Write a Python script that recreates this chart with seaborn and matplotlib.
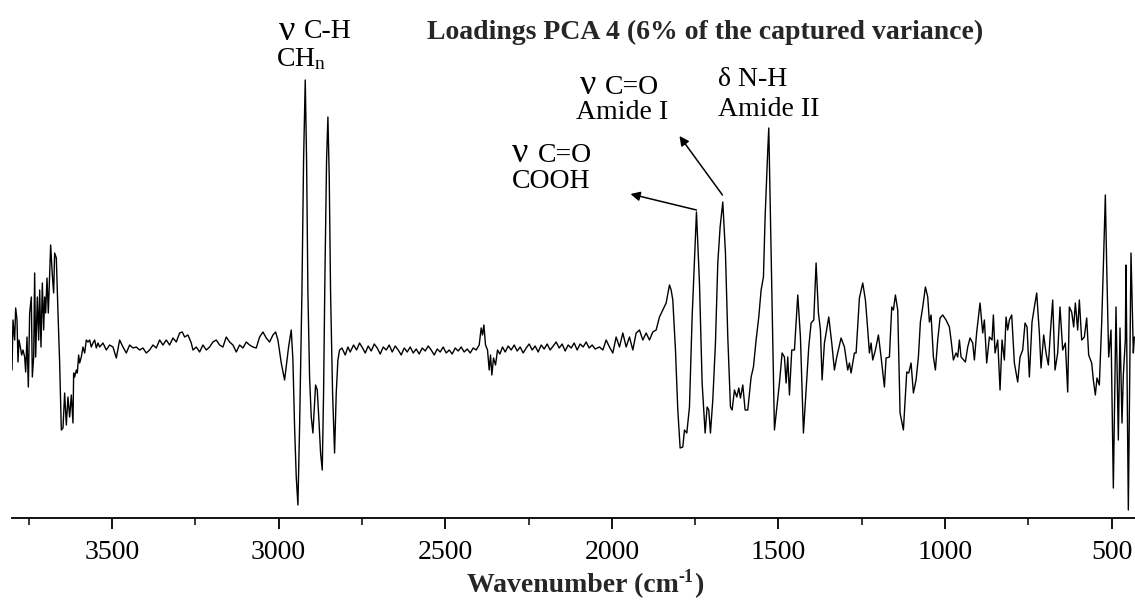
import numpy as np
import pandas as pd
import seaborn as sns
import matplotlib.pyplot as plt
from matplotlib.ticker import MultipleLocator

# PCA loading 4 of the FTIR spectra (loading values in units of 1e-3)
wn_oh = [3800, 3797, 3792, 3789, 3785, 3782, 3779, 3775, 3771, 3767, 3762, 3759, 3755, 3751, 3747,
         3742, 3739, 3735, 3732, 3729, 3724, 3720, 3717, 3713, 3709, 3705, 3702, 3699, 3695, 3691,
         3687, 3684, 3679, 3675, 3672, 3667, 3662, 3657, 3652, 3647, 3642, 3637, 3632, 3627, 3622,
         3617, 3615, 3612, 3607, 3604, 3600, 3597, 3592, 3587, 3582, 3577, 3572, 3567, 3562, 3557,
         3552, 3547, 3542, 3537, 3527, 3517, 3507, 3497, 3487, 3477, 3467, 3457, 3447, 3437, 3427,
         3417, 3407, 3397, 3387, 3377, 3367, 3357, 3347, 3337, 3327, 3317, 3307, 3297, 3289, 3282,
         3272, 3262, 3257, 3247, 3237, 3227, 3217, 3207, 3197, 3187, 3177, 3167, 3157, 3147, 3137,
         3127, 3117, 3107, 3097, 3087, 3077, 3067, 3057, 3047, 3037, 3027, 3017, 3009, 3002]
ld_oh = [-20, 30, 10, 42, 30, -12, 10, 3, -5, 0, -7, -22, 13, -37, 37,
         53, -27, -7, 77, -7, 53, 10, 60, 3, 67, 20, 53, 37, 72, 37,
         77, 105, 75, 57, 97, 92, 37, -13, -80, -78, -43, -75, -47, -67, -45,
         -73, -23, -27, -20, -23, -5, -13, -7, 3, -3, 10, 8, 10, 3, 7,
         10, 2, 7, 3, 7, 0, 5, 3, -8, 10, 3, -3, 5, 2, 3,
         0, 2, -3, 0, 5, 2, 10, 5, 10, 5, 12, 8, 17, 18, 13,
         15, 7, 0, 3, -2, 5, 0, 3, 8, 10, 5, 3, 13, 8, 5,
         -2, 5, 2, 8, 5, 3, 2, 13, 18, 12, 8, 15, 18, 10]

wn_ch = [2992, 2982, 2970, 2962, 2957, 2952, 2947, 2942, 2937, 2930, 2925, 2920, 2916, 2912, 2907,
         2902, 2897, 2892, 2889, 2884, 2879, 2874, 2869, 2865, 2861, 2856, 2852, 2848, 2844, 2838,
         2832, 2827, 2822, 2817]
ld_ch = [-13, -30, 3, 20, -10, -77, -127, -155, -77, 57, 190, 270, 190, 57, -27,
         -67, -83, -53, -35, -40, -70, -103, -120, -43, 73, 190, 233, 173, 57, -43,
         -103, -43, -10, 0]

wn_mid = [2810, 2800, 2792, 2785, 2775, 2766, 2757, 2748, 2740, 2731, 2722, 2713, 2704, 2695, 2686,
          2677, 2668, 2659, 2650, 2641, 2632, 2623, 2614, 2605, 2596, 2587, 2578, 2569, 2560, 2551,
          2542, 2533, 2524, 2515, 2506, 2497, 2488, 2479, 2470, 2461, 2452, 2443, 2434, 2425, 2416,
          2407, 2398, 2392, 2388, 2384, 2379, 2373, 2368, 2364, 2360, 2355, 2349, 2343, 2336, 2328,
          2320, 2311, 2302, 2293, 2284, 2275, 2266, 2257, 2248, 2239, 2230, 2221, 2212, 2203, 2194,
          2185, 2176, 2167, 2158, 2149, 2140, 2131, 2122, 2113, 2104, 2095, 2086, 2077, 2068, 2059,
          2050]
ld_mid = [2, -5, 3, -2, 5, 0, 7, 2, -3, 4, -1, 6, 2, -4, 3,
          0, 5, -2, 4, 0, -5, 2, -2, 3, -3, 1, -4, 2, -1, 4,
          0, -5, 1, -2, 3, -3, 0, -4, 2, -1, 3, -2, 1, -3, 2,
          0, 5, 22, 15, 25, 5, 0, -20, -5, -25, -8, -15, 0, -4, 3,
          -2, 4, 0, 5, -1, 3, -3, 2, 6, 0, 4, -2, 5, 1, 6,
          0, 4, 8, 2, 6, -1, 5, 2, 7, 0, 6, 3, 8, 2, 5,
          1]

wn_co = [2037, 2027, 2017, 2007, 1997, 1987, 1977, 1967, 1957, 1947, 1937, 1927, 1917, 1907, 1897,
         1887, 1877, 1867, 1857, 1847, 1837, 1827, 1822, 1817, 1809, 1802, 1795, 1787, 1782, 1775,
         1767, 1759, 1746, 1737, 1729, 1720, 1714, 1709, 1704, 1697, 1689, 1682, 1675, 1667, 1659,
         1652, 1644, 1639, 1632, 1625, 1619, 1614, 1607, 1600, 1592, 1582, 1575, 1567, 1559, 1552,
         1545, 1540, 1532, 1529, 1520, 1512, 1497, 1489, 1482, 1477, 1472, 1467, 1460, 1452, 1442,
         1434, 1425, 1417, 1409, 1402, 1394, 1387, 1380, 1374, 1369, 1362, 1349, 1340, 1332, 1325,
         1312, 1302, 1292]
ld_co = [3, 0, 10, 3, -3, 13, 3, 17, 3, 13, 0, 17, 20, 10, 17,
         10, 18, 20, 33, 40, 47, 65, 60, 50, 0, -60, -98, -97, -80, -83,
         -57, 33, 138, 67, -33, -83, -57, -60, -83, -50, 7, 87, 123, 148, 97,
         13, -57, -60, -40, -47, -38, -48, -35, -60, -60, -27, -17, 10, 33, 60,
         73, 133, 200, 222, 60, -80, -33, -3, -7, -33, -7, -45, 0, 0, 55,
         13, -83, -40, 3, 27, 30, 87, 37, 20, -30, 7, 33, 7, -20, -7,
         12, 3, -20]

wn_fp = [1287, 1282, 1272, 1267, 1257, 1247, 1239, 1232, 1227, 1222, 1217, 1209, 1200, 1192, 1182,
         1177, 1167, 1160, 1155, 1149, 1142, 1135, 1125, 1115, 1109, 1102, 1095, 1087, 1080, 1074,
         1067, 1059, 1052, 1047, 1042, 1035, 1029, 1022, 1015, 1007, 997, 987, 982, 975, 967,
         962, 957, 952, 939, 932, 925, 917, 912, 905, 895, 887, 882, 875, 867, 859,
         855, 850, 842, 835, 829, 822, 817, 812, 807, 800, 792, 782, 775, 767, 760,
         754, 747, 739, 732, 725, 717, 712, 704, 697, 690, 684, 677, 670, 662, 655,
         647, 639, 632, 627, 620, 614, 609, 602, 597, 590, 582, 575, 569, 560, 555,
         549, 544, 537, 530, 525, 519, 515, 509, 502, 495, 487, 480, 475, 469, 465,
         459, 457, 450, 442, 435, 432]
ld_fp = [-13, -23, -3, -3, 52, 67, 50, 20, -3, 7, -10, 0, 15, -7, -37,
         -8, -7, 43, 40, 55, 40, -63, -80, -22, -23, -13, -43, -30, -7, 28,
         43, 63, 53, 28, 35, -7, -20, 10, 32, 35, 30, 23, 10, -10, -3,
         -7, 10, -7, -12, 3, 12, 7, -10, 18, 47, 17, 30, -13, 13, 10,
         35, -3, 10, -40, 10, -10, 33, 20, 30, 35, -13, -32, -7, 0, 27,
         23, -27, 28, 43, 57, 17, -18, 15, -3, -15, 17, 50, -20, -3, 43,
         0, 7, -42, 43, 38, 23, 47, 20, 50, 10, 13, 32, -5, -13, -30,
         -45, -28, -35, 27, 83, 155, 85, -7, 20, -138, 43, -90, 22, -73, -25,
         10, 85, -160, 97, -3, 13]

wavenumber = wn_oh + wn_ch + wn_mid + wn_co + wn_fp
loading = ld_oh + ld_ch + ld_mid + ld_co + ld_fp
spec = pd.DataFrame({"wavenumber": wavenumber, "loading": loading})

sns.set_theme(style="ticks")
plt.rcParams['font.family'] = ['Liberation Serif', 'DejaVu Serif']
plt.rcParams['mathtext.fontset'] = 'custom'
plt.rcParams['mathtext.rm'] = 'Liberation Serif'
plt.rcParams['mathtext.it'] = 'Liberation Serif:italic'
plt.rcParams['mathtext.bf'] = 'Liberation Serif:bold'

W, H = 1135, 601
fig = plt.figure(figsize=(W / 100, H / 100), dpi=100)
spine_y = 517.7
ax = fig.add_axes([12 / W, (H - spine_y) / H, 1 - 12 / W, spine_y / H])

sns.lineplot(data=spec, x="wavenumber", y="loading", sort=False, estimator=None,
             color="black", linewidth=1.0, ax=ax)

ax.set_xlim(3800, 430)
ax.set_ylim(350 - spine_y, 350)
ax.xaxis.set_major_locator(MultipleLocator(500))
ax.xaxis.set_minor_locator(MultipleLocator(250))
ax.tick_params(axis="x", which="major", direction="out", length=8, width=1.3,
               labelsize=20, pad=8, colors="black")
ax.tick_params(axis="x", which="minor", direction="out", length=5, width=1.3)
ax.set_yticks([])
ax.set_ylabel("")
ax.set_xlabel("")
for side in ("left", "right", "top"):
    ax.spines[side].set_visible(False)
ax.spines["bottom"].set_linewidth(1.3)
ax.spines["bottom"].set_color("black")
ax.patch.set_alpha(0)


def fx(px):
    return px / W


def fy(py):
    return 1 - py / H


def label(px, py, s, size=20, ha="left", weight="normal"):
    return fig.text(fx(px), fy(py), s, fontsize=size, ha=ha, va="center",
                    weight=weight, color="black")


renderer = fig.canvas.get_renderer()

# axis title built from pieces so the exponent keeps a plain hyphen
parts = [("Wavenumber (cm", 20, 0), ("-1", 13, -9), (")", 20, 0)]
widths = []
for s, size, _ in parts:
    t = fig.text(0, 0, s, fontsize=size, weight="bold")
    widths.append(t.get_window_extent(renderer).width)
    t.remove()
x0 = 585 - sum(widths) / 2
for (s, size, dy), w in zip(parts, widths):
    fig.text(fx(x0), fy(586 + dy), s, fontsize=size, weight="bold",
             ha="left", va="center")
    x0 += w

fig.text(fx(427), fy(32), "Loadings PCA 4 (6% of the captured variance)",
         fontsize=20, weight="bold", ha="left", va="center")

# band assignments
label(279, 32, "ν", size=26)
label(304, 32, "C-H", size=20)
label(276, 59, r"CH$_{\mathregular{n}}$", size=20)

label(580, 85, "ν", size=26)
label(605, 87, "C=O", size=20)
label(622, 112, "Amide I", size=20, ha="center")

label(718, 80, "δ N-H", size=20)
label(718, 109, "Amide II", size=20)

label(512, 153, "ν", size=26)
label(538, 155, "C=O", size=20)
label(512, 182, "COOH", size=20)


def px_to_data(px, py):
    return 3000 - (px - 279) * 3, 350 - py


arrowprops = dict(arrowstyle="-|>", color="black", lw=1.1, mutation_scale=14,
                  shrinkA=0, shrinkB=0)
ax.annotate("", xy=px_to_data(631, 194), xytext=px_to_data(697, 210), arrowprops=arrowprops)
ax.annotate("", xy=px_to_data(680, 136), xytext=px_to_data(723, 195), arrowprops=arrowprops)

fig.savefig("out.png", dpi=100, facecolor="white")
